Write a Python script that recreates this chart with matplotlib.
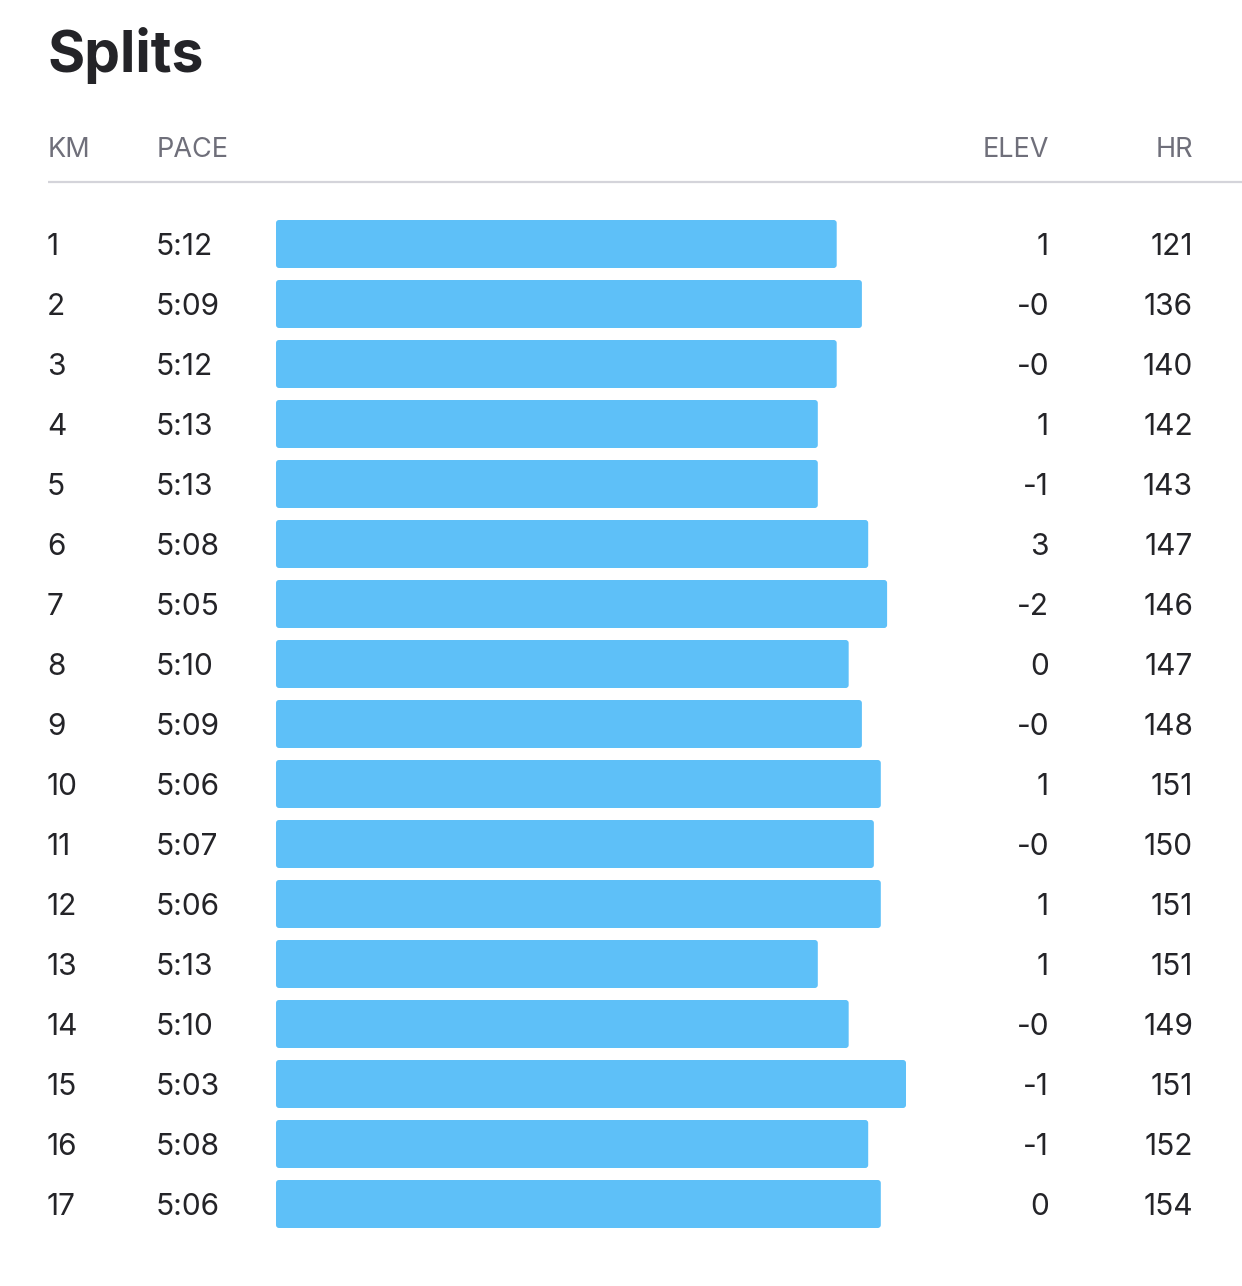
import matplotlib
matplotlib.use("Agg")
import matplotlib.pyplot as plt
from matplotlib.patches import FancyBboxPatch

# split data
km = list(range(1, 18))
pace = ["5:12", "5:09", "5:12", "5:13", "5:13", "5:08", "5:05", "5:10", "5:09",
        "5:06", "5:07", "5:06", "5:13", "5:10", "5:03", "5:08", "5:06"]
# bar length, % of the fastest split
bar_pct = [89.0, 93.0, 89.0, 86.0, 86.0, 94.0, 97.0, 90.9, 93.0,
           96.0, 94.9, 96.0, 86.0, 90.9, 100.0, 94.0, 96.0]
elev = ["1", "-0", "-0", "1", "-1", "3", "-2", "0", "-0",
        "1", "-0", "1", "1", "-0", "-1", "-1", "0"]
hr = [121, 136, 140, 142, 143, 147, 146, 147, 148,
      151, 150, 151, 151, 149, 151, 152, 154]
headers = ["KM", "PACE", "ELEV", "HR"]

plt.rcParams['font.family'] = ['Inter', 'DejaVu Sans']

W, H = 1242, 1286
fig = plt.figure(figsize=(W / 100, H / 100), dpi=100)
ax = fig.add_axes([0, 0, 1, 1])
ax.set_xlim(0, W)
ax.set_ylim(H, 0)
ax.axis('off')

dark = '#242428'
grey = '#6f6f7a'
blue = '#5ec0f8'

ax.text(47, 72, "Splits", fontsize=41, fontweight='bold', color=dark, va='baseline')

# header row
hy = 157
hfs = 19.5
ax.text(48, hy, headers[0], fontsize=hfs, color=grey, va='baseline')
ax.text(157, hy, headers[1], fontsize=hfs, color=grey, va='baseline')
ax.text(1049, hy, headers[2], fontsize=hfs, color=grey, va='baseline', ha='right')
ax.text(1193, hy, headers[3], fontsize=hfs, color=grey, va='baseline', ha='right')
ax.plot([48, W], [182, 182], color='#d4d4da', lw=1.6, solid_capstyle='butt')

rows = [244 + 60 * i for i in range(len(km))]
full = 630  # px length of a 100% bar
bars = ax.barh(rows, [p / 100 * full for p in bar_pct], left=276, height=48,
               color=blue)
# swap in rounded rectangles
for b in bars:
    b.set_visible(False)
    ax.add_patch(FancyBboxPatch((b.get_x(), b.get_y()), b.get_width(), b.get_height(),
                                boxstyle="round,pad=0,rounding_size=3",
                                fc=blue, ec='none'))

fs = 21.5
for i, y in enumerate(rows):
    base = y + 11
    ax.text(47, base, str(km[i]), fontsize=fs, color=dark, va='baseline')
    ax.text(156, base, pace[i], fontsize=fs, color=dark, va='baseline')
    ax.text(1049, base, elev[i], fontsize=fs, color=dark, va='baseline', ha='right')
    ax.text(1193, base, str(hr[i]), fontsize=fs, color=dark, va='baseline', ha='right')

fig.savefig("out.png", dpi=100, facecolor='white')
